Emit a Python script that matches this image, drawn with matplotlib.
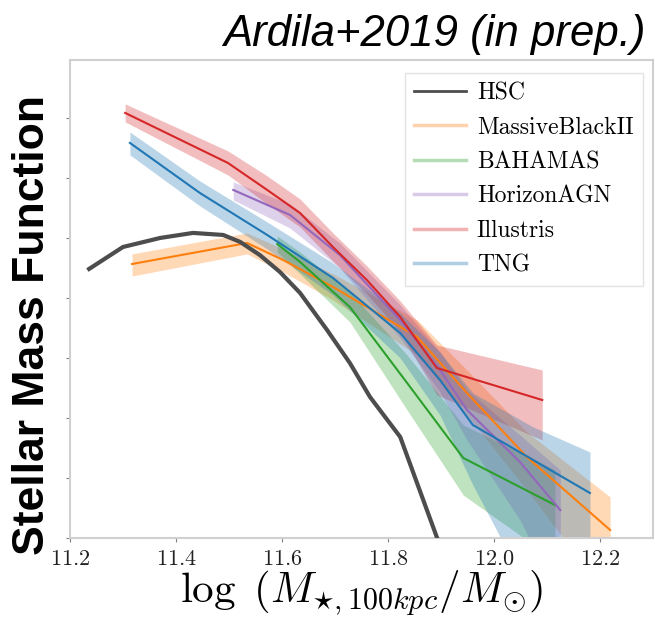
import matplotlib
matplotlib.use("Agg")
import matplotlib.pyplot as plt
from matplotlib.lines import Line2D
import numpy as np

plt.rcParams["mathtext.fontset"] = "cm"
plt.rcParams["axes.formatter.use_mathtext"] = True

# stellar mass function per sample: log M*, log phi and the 1-sigma band
hsc_x = [11.236, 11.300, 11.370, 11.432, 11.489, 11.521, 11.558, 11.596, 11.634,
         11.685, 11.728, 11.766, 11.823, 11.892, 11.898]
hsc_y = [-3.758, -3.575, -3.500, -3.458, -3.475, -3.533, -3.642, -3.783, -3.958,
         -4.267, -4.542, -4.825, -5.158, -5.992, -6.058]

mb2_x = [11.317, 11.534, 11.602, 11.696, 11.760, 11.855, 11.949, 12.062, 12.219]
mb2_y = [-3.717, -3.542, -3.683, -3.908, -4.075, -4.325, -4.792, -5.325, -5.933]
mb2_hi = [-3.633, -3.458, -3.592, -3.800, -3.950, -4.183, -4.600, -5.117, -5.658]
mb2_lo = [-3.817, -3.633, -3.783, -4.017, -4.200, -4.475, -4.975, -5.600, -6.517]

bah_x = [11.591, 11.634, 11.728, 11.836, 11.942, 12.115]
bah_y = [-3.550, -3.700, -4.075, -4.708, -5.333, -5.725]
bah_hi = [-3.483, -3.617, -3.950, -4.475, -5.058, -5.433]
bah_lo = [-3.617, -3.800, -4.200, -4.933, -5.642, -6.183]

hagn_x = [11.508, 11.615, 11.709, 11.823, 11.898, 11.949, 12.049, 12.125]
hagn_y = [-3.100, -3.308, -3.642, -4.183, -4.600, -4.933, -5.367, -5.767]
hagn_hi = [-3.033, -3.217, -3.542, -4.058, -4.450, -4.767, -5.142, -5.433]
hagn_lo = [-3.183, -3.417, -3.750, -4.333, -4.783, -5.183, -5.850, -6.517]

ill_x = [11.304, 11.498, 11.572, 11.634, 11.696, 11.760, 11.823, 11.892, 12.091]
ill_y = [-2.458, -2.875, -3.100, -3.292, -3.575, -3.850, -4.158, -4.583, -4.850]
ill_hi = [-2.383, -2.775, -2.983, -3.175, -3.458, -3.733, -4.025, -4.392, -4.600]
ill_lo = [-2.533, -2.975, -3.217, -3.408, -3.692, -3.967, -4.283, -4.808, -5.183]

tng_x = [11.313, 11.445, 11.572, 11.696, 11.823, 11.898, 11.960, 12.074, 12.181]
tng_y = [-2.708, -3.125, -3.475, -3.833, -4.292, -4.683, -5.058, -5.350, -5.625]
tng_hi = [-2.617, -3.025, -3.367, -3.708, -4.125, -4.450, -4.792, -5.075, -5.283]
tng_lo = [-2.808, -3.233, -3.592, -3.975, -4.500, -4.975, -5.558, -6.517, -6.683]

sims = [
    ("MassiveBlackII", "C1", mb2_x, mb2_y, mb2_lo, mb2_hi),
    ("BAHAMAS", "C2", bah_x, bah_y, bah_lo, bah_hi),
    ("HorizonAGN", "C4", hagn_x, hagn_y, hagn_lo, hagn_hi),
    ("Illustris", "C3", ill_x, ill_y, ill_lo, ill_hi),
    ("TNG", "C0", tng_x, tng_y, tng_lo, tng_hi),
]

fig = plt.figure(figsize=(6.55, 6.17), dpi=100)
ax = fig.add_axes([0.1069, 0.128, 0.8901, 0.7748])

for name, col, x, y, lo, hi in sims:
    ax.fill_between(x, lo, hi, color=col, alpha=0.3, lw=0)
    ax.plot(x, y, color=col, lw=1.5)

ax.plot(hsc_x, hsc_y, color="0.3", lw=3, zorder=5)

ax.set_xlim(11.2, 12.3)
ax.set_ylim(-6.0, -2.017)
ax.set_xticks(np.arange(11.2, 12.21, 0.2))
ax.set_yticks(np.arange(-6.0, -2.49, 0.5))
ax.set_yticklabels([])
for lab in ax.get_xticklabels():
    lab.set_fontfamily("cmr10")
    lab.set_fontsize(16)
ax.tick_params(length=3, width=0.8, color="0.5", pad=5, labelcolor="#222")
for sp in ax.spines.values():
    sp.set_color("#d0d0d0")
    sp.set_linewidth(1.5)

ax.set_xlabel(r"$\log\ (M_{\star,100kpc}/M_{\odot})$", fontsize=31, labelpad=0)
fig.text(0.05, 0.473, "Stellar Mass Function", rotation=90, ha="center",
         va="center", fontsize=32, fontweight="bold", family="Liberation Sans")
fig.text(0.986, 0.925, "Ardila+2019 (in prep.)", ha="right", va="baseline",
         fontsize=31.5, style="italic", family="Liberation Sans")

handles = [Line2D([], [], color="0.3", lw=2)]
labels = ["HSC"]
for name, col, *_ in sims:
    handles.append(Line2D([], [], color=col, lw=2.5, alpha=0.35))
    labels.append(name)
leg = ax.legend(handles, labels, loc="upper right", bbox_to_anchor=(1.003, 0.998),
                prop={"family": "cmr10", "size": 17}, handlelength=2.2,
                handletextpad=0.45, labelspacing=0.52, borderpad=0.4,
                fancybox=False, framealpha=0.9, edgecolor="#e0e0e0")

fig.savefig("out.png", dpi=100)
